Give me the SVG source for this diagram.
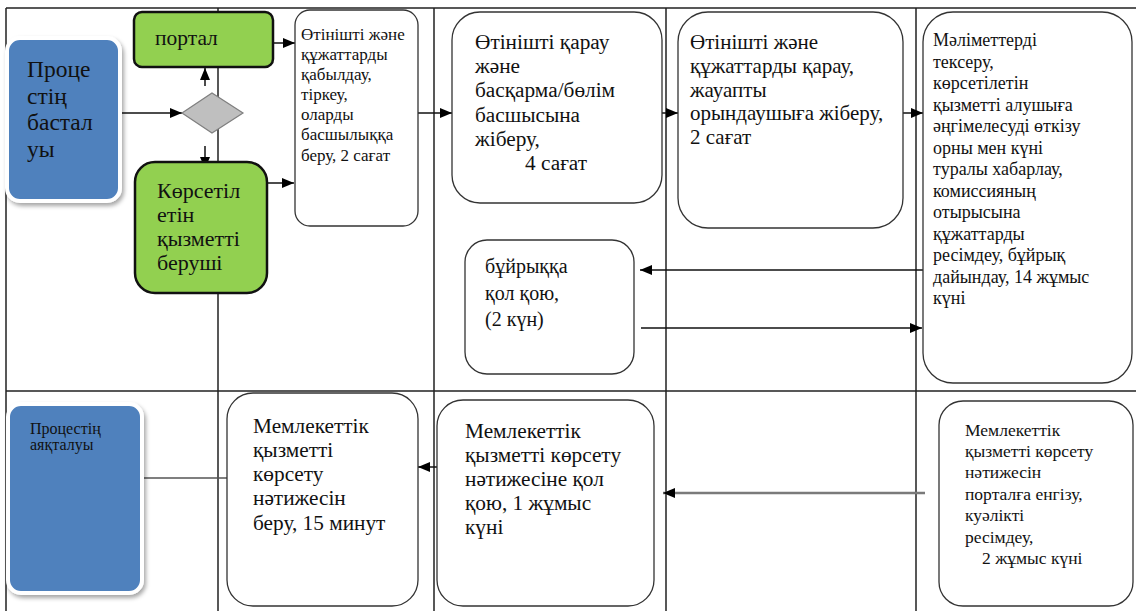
<svg xmlns="http://www.w3.org/2000/svg" width="1136" height="611" viewBox="0 0 1136 611">
<style>
.lane{stroke:#222;stroke-width:1.5;fill:none}
.box{fill:#fff;stroke:#333;stroke-width:1.3}
.green{fill:#92D050;stroke:#111;stroke-width:2.5}
.blue{fill:#4F81BD;stroke:#fff;stroke-width:4}
.t{font-family:'Liberation Serif','DejaVu Serif','Noto Serif',serif;fill:#111}
.c{stroke:#111;stroke-width:1.5;fill:none;marker-end:url(#ah)}
.cg{stroke:#7a7a7a;stroke-width:2.5;fill:none;marker-end:url(#ah)}
</style>
<defs>
<marker id="ah" markerUnits="userSpaceOnUse" markerWidth="13" markerHeight="11" refX="12" refY="5" orient="auto">
<path d="M0,0 L12,5 L0,10 z" fill="#000"/>
</marker>
<filter id="sh" x="-20%" y="-20%" width="140%" height="140%">
<feDropShadow dx="2" dy="3" stdDeviation="2" flood-color="#000" flood-opacity="0.35"/>
</filter>
</defs>
<rect width="1136" height="611" fill="#fff"/>
<g id="lanes">
<path class="lane" d="M6,8 H1136 M6,8 V611 M218,8 V611 M434,8 V611 M666,8 V611 M916,8 V611 M6,391 H1136"/>
</g>
<g id="connectors">
<path class="c" d="M120,113 H182"/>
<path class="c" d="M205,86 V68"/>
<path class="c" d="M205,146 V169"/>
<path class="c" d="M273,43 H295"/>
<path class="c" d="M267,183 H294"/>
<path class="c" d="M418,113 H452"/>
<path class="c" d="M662,113 H678"/>
<path class="c" d="M903,113 H923"/>
<path class="c" d="M923,270 H640"/>
<path class="c" d="M641,328 H922"/>
<path class="cg" d="M925,493 H663"/>
<path class="c" d="M437,467 H418"/>
<path class="c" style="stroke:#555" d="M227,478 H123"/>
</g>
<g id="start">
<rect class="blue" x="7" y="38" width="113" height="163" rx="13" filter="url(#sh)"/>
<text class="t" font-size="23.5"><tspan x="27" y="77">Проце</tspan><tspan x="27" y="103.5">стің</tspan><tspan x="27" y="130">бастал</tspan><tspan x="27" y="156.5">уы</tspan></text>
</g>
<g id="portal">
<rect class="green" x="134" y="12" width="139" height="55" rx="8"/>
<text class="t" font-size="21.5" x="155" y="45">портал</text>
</g>
<g id="decision">
<polygon points="182,113 212,93 243,113 212,133" fill="#BFBFBF" stroke="#7F7F7F" stroke-width="1.2"/>
</g>
<g id="provider">
<rect class="green" x="135" y="162" width="132" height="131" rx="20"/>
<text class="t" font-size="22"><tspan x="157" y="198">Көрсетіл</tspan><tspan x="157" y="222">етін</tspan><tspan x="157" y="246">қызметті</tspan><tspan x="157" y="270">беруші</tspan></text>
</g>
<g id="receive">
<rect class="box" x="295" y="10" width="123" height="216" rx="15"/>
<text class="t" font-size="17"><tspan x="301" y="40">Өтінішті және</tspan><tspan x="301" y="60">құжаттарды</tspan><tspan x="301" y="80">қабылдау,</tspan><tspan x="301" y="100">тіркеу,</tspan><tspan x="301" y="120">оларды</tspan><tspan x="301" y="140">басшылыққа</tspan><tspan x="301" y="161">беру, 2 сағат</tspan></text>
</g>
<g id="review">
<rect class="box" x="452" y="12" width="210" height="191" rx="28"/>
<text class="t" font-size="21.3"><tspan x="475" y="49">Өтінішті қарау</tspan><tspan x="475" y="73">және</tspan><tspan x="475" y="97">басқарма/бөлім</tspan><tspan x="475" y="122">басшысына</tspan><tspan x="475" y="146">жіберу,</tspan><tspan x="525" y="170">4 сағат</tspan></text>
</g>
<g id="assign">
<rect class="box" x="678" y="12" width="225" height="216" rx="30"/>
<text class="t" font-size="21"><tspan x="690" y="49">Өтінішті және</tspan><tspan x="690" y="73">құжаттарды қарау,</tspan><tspan x="690" y="97">жауапты</tspan><tspan x="690" y="120">орындаушыға жіберу,</tspan><tspan x="690" y="144">2 сағат</tspan></text>
</g>
<g id="check">
<rect class="box" x="923" y="12" width="209" height="371" rx="30"/>
<text class="t" font-size="18"><tspan x="933" y="46">Мәліметтерді</tspan><tspan x="933" y="67.5">тексеру,</tspan><tspan x="933" y="89">көрсетілетін</tspan><tspan x="933" y="110.5">қызметті алушыға</tspan><tspan x="933" y="132">әңгімелесуді өткізу</tspan><tspan x="933" y="153.5">орны мен күні</tspan><tspan x="933" y="175">туралы хабарлау,</tspan><tspan x="933" y="196.5">комиссияның</tspan><tspan x="933" y="218">отырысына</tspan><tspan x="933" y="239.5">құжаттарды</tspan><tspan x="933" y="261">ресімдеу, бұйрық</tspan><tspan x="933" y="282.5">дайындау, 14 жұмыс</tspan><tspan x="933" y="304">күні</tspan></text>
</g>
<g id="sign-order">
<rect class="box" x="465" y="240" width="169" height="134" rx="22"/>
<text class="t" font-size="20"><tspan x="485" y="273">бұйрыққа</tspan><tspan x="485" y="300">қол қою,</tspan><tspan x="485" y="326">(2 күн)</tspan></text>
</g>
<g id="end">
<rect class="blue" x="8" y="404" width="134" height="189" rx="13" filter="url(#sh)"/>
<text class="t" font-size="16"><tspan x="30" y="434">Процестің</tspan><tspan x="30" y="450">аяқталуы</tspan></text>
</g>
<g id="deliver">
<rect class="box" x="227" y="393" width="191" height="213" rx="26"/>
<text class="t" font-size="21.3"><tspan x="253" y="433">Мемлекеттік</tspan><tspan x="253" y="457">қызметті</tspan><tspan x="253" y="481">көрсету</tspan><tspan x="253" y="505">нәтижесін</tspan><tspan x="253" y="530">беру, 15 минут</tspan></text>
</g>
<g id="sign-result">
<rect class="box" x="437" y="400" width="217" height="206" rx="26"/>
<text class="t" font-size="21.3"><tspan x="465" y="438">Мемлекеттік</tspan><tspan x="465" y="462">қызметті көрсету</tspan><tspan x="465" y="486">нәтижесіне қол</tspan><tspan x="465" y="510">қою, 1 жұмыс</tspan><tspan x="465" y="534">күні</tspan></text>
</g>
<g id="portal-entry">
<rect class="box" x="939" y="401" width="194" height="205" rx="24"/>
<text class="t" font-size="17.5"><tspan x="965" y="436">Мемлекеттік</tspan><tspan x="965" y="457">қызметті көрсету</tspan><tspan x="965" y="478">нәтижесін</tspan><tspan x="965" y="500">порталға енгізу,</tspan><tspan x="965" y="521">куәлікті</tspan><tspan x="965" y="543">ресімдеу,</tspan><tspan x="982" y="564">2 жұмыс күні</tspan></text>
</g>
</svg>
